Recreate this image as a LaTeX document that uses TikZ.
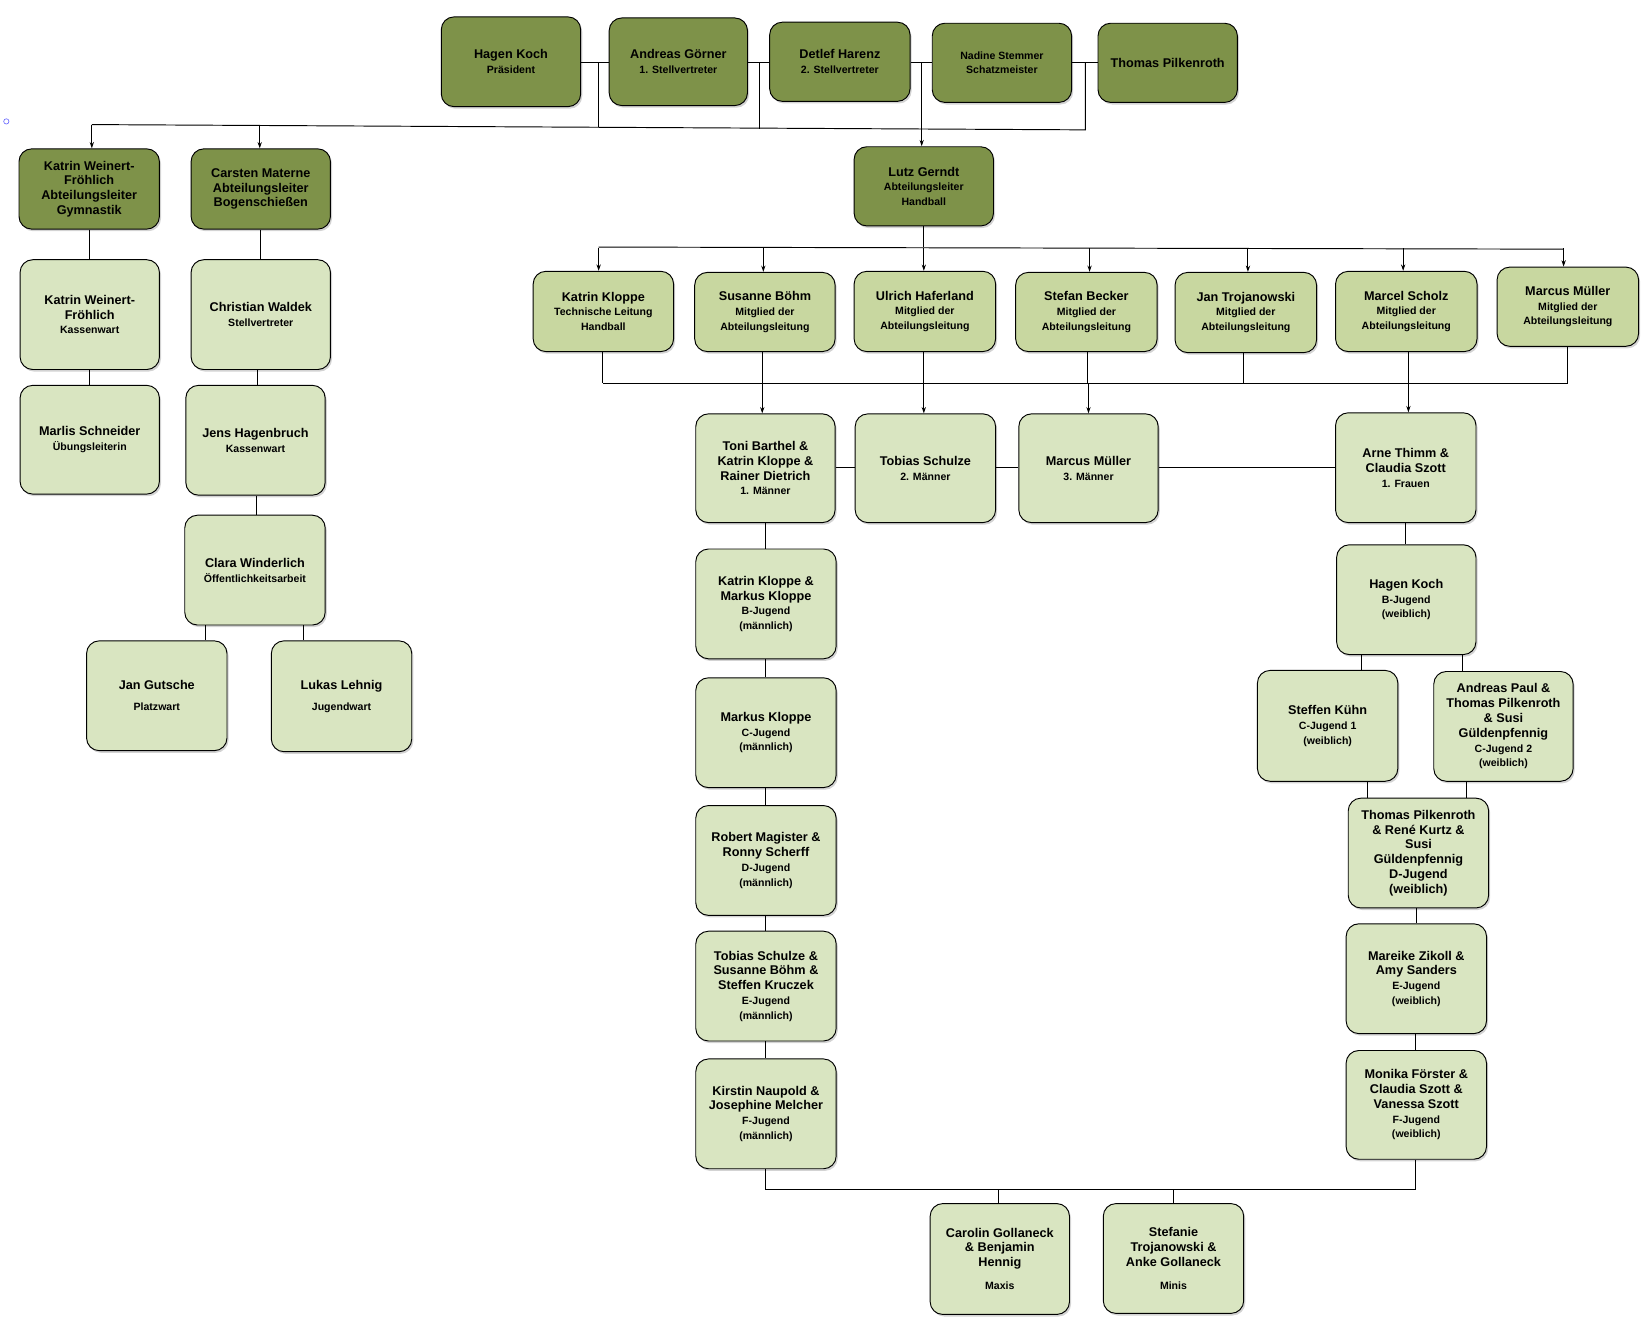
\documentclass[tikz,border=0pt]{standalone}
\usepackage{fontspec}
\setmainfont{Liberation Sans}
\usetikzlibrary{shadows,arrows.meta}
\definecolor{dk}{HTML}{7E9249}
\definecolor{md}{HTML}{C8D7A0}
\definecolor{lt}{HTML}{D9E5C1}
\newcommand\nm{\fontsize{12}{14}\selectfont\bfseries}
\newcommand\sbt[1]{{\fontsize{10}{11.5}\selectfont\bfseries #1}}
\newcommand\obox[7]{\node[bx,fill=#6,minimum width={#4-#2},minimum height={#5-#3}] (#1) at ({(#2+#4)/2},{(#3+#5)/2}) {#7};}
\tikzset{bx/.style={draw=black,line width=0.9pt,rounded corners=12pt,align=center,font=\nm,inner sep=1pt,
  drop shadow={shadow xshift=1.5pt,shadow yshift=-2pt,opacity=0.35}},
  ln/.style={line width=0.9pt},
  ar/.style={line width=0.9pt,-{Stealth[length=6pt,width=4pt]}}}
\begin{document}
\begin{tikzpicture}[x=1pt,y=-1pt]
\useasboundingbox (0,0) rectangle (1560,1263);
\draw[blue!60,line width=0.6pt] (6,115) circle (2.5);
% top
\obox{hk}{418}{16}{550}{101}{dk}{Hagen Koch\\\sbt{Präsident}}
\obox{ag}{577}{17}{708}{100}{dk}{Andreas Görner\\\sbt{1. Stellvertreter}}
\obox{dh}{729}{21}{862}{96}{dk}{Detlef Harenz\\\sbt{2. Stellvertreter}}
\obox{ns}{883}{22}{1015}{97}{dk}{\sbt{Nadine Stemmer}\\\sbt{Schatzmeister}}
\obox{tp}{1040}{22}{1172}{97}{dk}{Thomas Pilkenroth}
\draw[ln] (hk.east|-0,59) -- (ag.west|-0,59);
\draw[ln] (ag.east|-0,59) -- (dh.west|-0,59);
\draw[ln] (dh.east|-0,59) -- (ns.west|-0,59);
\draw[ln] (ns.east|-0,59) -- (tp.west|-0,59);
\draw[ln] (567,59) -- (567,120);
\draw[ln] (719,59) -- (719,122);
\draw[ln] (1028,59) -- (1028,123) -- (87,118);
% second row
\obox{kw}{18}{141}{151}{217}{dk}{Katrin Weinert-\\Fröhlich\\Abteilungsleiter\\Gymnastik}
\obox{cm}{181}{141}{313}{217}{dk}{Carsten Materne\\Abteilungsleiter\\Bogenschießen}
\obox{lg}{809}{139}{941}{214}{dk}{Lutz Gerndt\\\sbt{Abteilungsleiter}\\\sbt{Handball}}
\draw[ar] (87,118) -- (kw.north-|87,0);
\draw[ar] (246,119) -- (cm.north-|246,0);
\draw[ar] (873,59) -- (lg.north-|873,0);
% left columns
\obox{kw2}{19}{246}{151}{350}{lt}{Katrin Weinert-\\Fröhlich\\\sbt{Kassenwart}}
\obox{cw}{181}{246}{313}{350}{lt}{Christian Waldek\\\sbt{Stellvertreter}}
\obox{ms}{19}{365}{151}{468}{lt}{Marlis Schneider\\\sbt{Übungsleiterin}}
\obox{jh}{176}{365}{308}{469}{lt}{Jens Hagenbruch\\\sbt{Kassenwart}}
\obox{clw}{175}{488}{308}{592}{lt}{Clara Winderlich\\\sbt{Öffentlichkeitsarbeit}}
\obox{jg}{82}{607}{215}{711}{lt}{Jan Gutsche\\[6pt]\sbt{Platzwart}}
\obox{ll}{257}{607}{390}{712}{lt}{Lukas Lehnig\\[6pt]\sbt{Jugendwart}}
\draw[ln] (kw.south-|85,0) -- (kw2.north-|85,0);
\draw[ln] (kw2.south-|85,0) -- (ms.north-|85,0);
\draw[ln] (cm.south-|247,0) -- (cw.north-|247,0);
\draw[ln] (cw.south-|244,0) -- (jh.north-|244,0);
\draw[ln] (jh.south-|243,0) -- (clw.north-|243,0);
\draw[ln] (clw.south-|195,0) -- (jg.north-|195,0);
\draw[ln] (clw.south-|287,0) -- (ll.north-|287,0);
% handball row
\obox{kk}{505}{257}{638}{333}{md}{Katrin Kloppe\\\sbt{Technische Leitung}\\\sbt{Handball}}
\obox{sb}{658}{258}{791}{333}{md}{Susanne Böhm\\\sbt{Mitglied der}\\\sbt{Abteilungsleitung}}
\obox{uh}{809}{257}{943}{333}{md}{Ulrich Haferland\\\sbt{Mitglied der}\\\sbt{Abteilungsleitung}}
\obox{sbe}{962}{258}{1096}{333}{md}{Stefan Becker\\\sbt{Mitglied der}\\\sbt{Abteilungsleitung}}
\obox{jt}{1113}{258}{1247}{334}{md}{Jan Trojanowski\\\sbt{Mitglied der}\\\sbt{Abteilungsleitung}}
\obox{msc}{1265}{257}{1399}{333}{md}{Marcel Scholz\\\sbt{Mitglied der}\\\sbt{Abteilungsleitung}}
\obox{mm}{1418}{253}{1552}{328}{md}{Marcus Müller\\\sbt{Mitglied der}\\\sbt{Abteilungsleitung}}
\draw[ln] (lg.south-|875,0) -- (875,234);
\draw[ln] (567,234) -- (1481,236);
\foreach \n/\x in {kk/567,sb/723,uh/875,sbe/1032,jt/1182,msc/1329,mm/1481}
  \draw[ar] (\x,235) -- (\n.north-|\x,0);
\foreach \n/\x in {kk/571,sb/722,uh/875,sbe/1030,jt/1178,msc/1334,mm/1485}
  \draw[ln] (\n.south-|\x,0) -- (\x,363);
\draw[ln] (571,363) -- (1485,363);
% teams
\obox{t1}{659}{392}{791}{495}{lt}{Toni Barthel \&\\Katrin Kloppe \&\\Rainer Dietrich\\\sbt{1. Männer}}
\obox{t2}{810}{392}{943}{495}{lt}{Tobias Schulze\\\sbt{2. Männer}}
\obox{t3}{965}{392}{1097}{495}{lt}{Marcus Müller\\\sbt{3. Männer}}
\obox{f1}{1265}{391}{1398}{495}{lt}{Arne Thimm \&\\Claudia Szott\\\sbt{1. Frauen}}
\draw[ar] (722,363) -- (t1.north-|722,0);
\draw[ar] (875,363) -- (t2.north-|875,0);
\draw[ar] (1031,363) -- (t3.north-|1031,0);
\draw[ar] (1334,363) -- (f1.north-|1334,0);
\draw[ln] (t1.east|-0,443) -- (t2.west|-0,443);
\draw[ln] (t2.east|-0,443) -- (t3.west|-0,443);
\draw[ln] (t3.east|-0,443) -- (f1.west|-0,443);
% male youth
\obox{mb}{659}{520}{792}{624}{lt}{Katrin Kloppe \&\\Markus Kloppe\\\sbt{B-Jugend}\\\sbt{(männlich)}}
\obox{mc}{659}{642}{792}{746}{lt}{Markus Kloppe\\\sbt{C-Jugend}\\\sbt{(männlich)}}
\obox{md}{659}{763}{792}{867}{lt}{Robert Magister \&\\Ronny Scherff\\\sbt{D-Jugend}\\\sbt{(männlich)}}
\obox{me}{659}{882}{792}{986}{lt}{Tobias Schulze \&\\Susanne Böhm \&\\Steffen Kruczek\\\sbt{E-Jugend}\\\sbt{(männlich)}}
\obox{mf}{659}{1003}{792}{1107}{lt}{Kirstin Naupold \&\\Josephine Melcher\\\sbt{F-Jugend}\\\sbt{(männlich)}}
\draw[ln] (t1.south-|725,0) -- (mb.north-|725,0);
\draw[ln] (mb.south-|725,0) -- (mc.north-|725,0);
\draw[ln] (mc.south-|725,0) -- (md.north-|725,0);
\draw[ln] (md.south-|725,0) -- (me.north-|725,0);
\draw[ln] (me.south-|725,0) -- (mf.north-|725,0);
% female youth
\obox{wb}{1266}{516}{1398}{620}{lt}{Hagen Koch\\\sbt{B-Jugend}\\\sbt{(weiblich)}}
\obox{wc1}{1191}{635}{1324}{740}{lt}{Steffen Kühn\\\sbt{C-Jugend 1}\\\sbt{(weiblich)}}
\obox{wc2}{1358}{636}{1490}{740}{lt}{Andreas Paul \&\\Thomas Pilkenroth\\\& Susi\\Güldenpfennig\\\sbt{C-Jugend 2}\\\sbt{(weiblich)}}
\obox{wd}{1277}{756}{1410}{860}{lt}{Thomas Pilkenroth\\\& René Kurtz \&\\Susi\\Güldenpfennig\\D-Jugend\\(weiblich)}
\obox{we}{1275}{875}{1408}{979}{lt}{Mareike Zikoll \&\\Amy Sanders\\\sbt{E-Jugend}\\\sbt{(weiblich)}}
\obox{wf}{1275}{995}{1408}{1098}{lt}{Monika Förster \&\\Claudia Szott \&\\Vanessa Szott\\\sbt{F-Jugend}\\\sbt{(weiblich)}}
\draw[ln] (f1.south-|1331,0) -- (wb.north-|1331,0);
\draw[ln] (wb.south-|1290,0) -- (wc1.north-|1290,0);
\draw[ln] (wb.south-|1385,0) -- (wc2.north-|1385,0);
\draw[ln] (wc1.south-|1295,0) -- (wd.north-|1295,0);
\draw[ln] (wc2.south-|1389,0) -- (wd.north-|1389,0);
\draw[ln] (wd.south-|1342,0) -- (we.north-|1342,0);
\draw[ln] (we.south-|1341,0) -- (wf.north-|1341,0);
% minis
\obox{mx}{881}{1140}{1013}{1245}{lt}{Carolin Gollaneck\\\& Benjamin\\Hennig\\[8pt]\sbt{Maxis}}
\obox{mi}{1045}{1140}{1178}{1244}{lt}{Stefanie\\Trojanowski \&\\Anke Gollaneck\\[8pt]\sbt{Minis}}
\draw[ln] (mf.south-|725,0) -- (725,1127) -- (1341,1127) -- (wf.south-|1341,0);
\draw[ln] (946,1127) -- (mx.north-|946,0);
\draw[ln] (1111,1127) -- (mi.north-|1111,0);
\end{tikzpicture}
\end{document}
